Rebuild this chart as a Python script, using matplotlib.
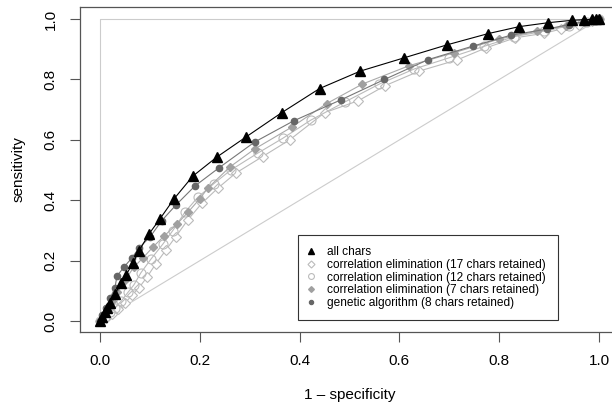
import matplotlib
matplotlib.use("Agg")
import matplotlib.pyplot as plt

plt.rcParams['font.family'] = ['Liberation Sans', 'DejaVu Sans']

# ROC curves
all_x = [0, 0.005, 0.01, 0.015, 0.02, 0.03, 0.042, 0.052, 0.066, 0.078, 0.098, 0.12,
         0.148, 0.186, 0.234, 0.292, 0.364, 0.44, 0.522, 0.61, 0.696, 0.778, 0.84,
         0.898, 0.946, 0.97, 0.985, 0.993, 1.0]
all_y = [0, 0.015, 0.03, 0.045, 0.06, 0.09, 0.126, 0.152, 0.192, 0.232, 0.288, 0.338,
         0.404, 0.48, 0.543, 0.609, 0.69, 0.77, 0.828, 0.872, 0.915, 0.952, 0.975,
         0.988, 0.996, 0.998, 0.999, 1.0, 1.0]

ce17_x = [0, 0.012, 0.024, 0.036, 0.05, 0.064, 0.078, 0.094, 0.112, 0.132, 0.152, 0.176,
          0.204, 0.236, 0.272, 0.326, 0.38, 0.45, 0.518, 0.572, 0.64, 0.716, 0.774,
          0.832, 0.89, 0.924, 0.96, 0.985, 1.0]
ce17_y = [0, 0.012, 0.025, 0.04, 0.06, 0.085, 0.11, 0.145, 0.19, 0.235, 0.28, 0.335,
          0.39, 0.44, 0.49, 0.545, 0.6, 0.69, 0.73, 0.78, 0.828, 0.865, 0.905,
          0.938, 0.953, 0.967, 0.982, 0.993, 1.0]

ce12_x = [0, 0.01, 0.02, 0.03, 0.042, 0.056, 0.068, 0.082, 0.102, 0.126, 0.146, 0.17,
          0.196, 0.228, 0.262, 0.316, 0.366, 0.422, 0.49, 0.56, 0.63, 0.70, 0.77,
          0.83, 0.89, 0.94, 0.975, 1.0]
ce12_y = [0, 0.015, 0.03, 0.045, 0.065, 0.095, 0.12, 0.16, 0.205, 0.255, 0.30, 0.36,
          0.41, 0.455, 0.5, 0.556, 0.605, 0.665, 0.725, 0.785, 0.835, 0.872, 0.91,
          0.942, 0.96, 0.978, 0.99, 1.0]

ce7_x = [0, 0.008, 0.015, 0.025, 0.035, 0.05, 0.068, 0.086, 0.106, 0.128, 0.154, 0.176,
         0.2, 0.216, 0.26, 0.31, 0.384, 0.454, 0.526, 0.62, 0.71, 0.80, 0.876, 0.934,
         0.97, 1.0]
ce7_y = [0, 0.02, 0.04, 0.065, 0.095, 0.135, 0.179, 0.209, 0.245, 0.281, 0.321, 0.36,
         0.405, 0.44, 0.51, 0.57, 0.642, 0.72, 0.785, 0.846, 0.889, 0.934, 0.96, 0.978,
         0.99, 1.0]

ga_x = [0, 0.005, 0.012, 0.02, 0.03, 0.034, 0.048, 0.064, 0.078, 0.1, 0.124, 0.152,
        0.19, 0.238, 0.31, 0.388, 0.482, 0.57, 0.658, 0.748, 0.824, 0.896, 0.94,
        0.97, 0.99, 1.0]
ga_y = [0, 0.02, 0.045, 0.075, 0.11, 0.149, 0.179, 0.209, 0.242, 0.278, 0.333, 0.384,
        0.447, 0.507, 0.593, 0.663, 0.732, 0.80, 0.866, 0.911, 0.947, 0.967, 0.982,
        0.992, 0.997, 1.0]

labels = ["all chars",
          "correlation elimination (17 chars retained)",
          "correlation elimination (12 chars retained)",
          "correlation elimination (7 chars retained)",
          "genetic algorithm (8 chars retained)"]

fig = plt.figure(figsize=(6.12, 4.07), dpi=100)
ax = fig.add_axes([80 / 612, 75 / 407, 539 / 612, 325 / 407])

# reference lines: perfect classifier and chance
ax.plot([0, 0, 1], [0, 1, 1], color='#cccccc', lw=0.8, zorder=1)
ax.plot([0, 1], [0, 1], color='#cccccc', lw=0.8, zorder=1)

ax.plot(ce17_x, ce17_y, color='#bbbbbb', lw=0.8, marker='D', ms=5.5,
        mfc='white', mec='#bbbbbb', mew=0.8, label=labels[1], zorder=2)
ax.plot(ce12_x, ce12_y, color='#bbbbbb', lw=0.8, marker='o', ms=6.5,
        mfc='none', mec='#bbbbbb', mew=0.8, label=labels[2], zorder=2)
ax.plot(ce7_x, ce7_y, color='#aaaaaa', lw=0.8, marker='D', ms=4.5,
        mfc='#a0a0a0', mec='#a0a0a0', label=labels[3], zorder=3)
ax.plot(ga_x, ga_y, color='#777777', lw=0.8, marker='o', ms=4.5,
        mfc='#666666', mec='#666666', label=labels[4], zorder=4)
ax.plot(all_x, all_y, color='black', lw=0.8, marker='^', ms=7,
        mfc='black', mec='black', label=labels[0], zorder=5)

ax.set_xlim(-0.04, 1.04)
ax.set_ylim(-0.036, 1.04)
ticks = [0.0, 0.2, 0.4, 0.6, 0.8, 1.0]
ax.set_xticks(ticks)
ax.set_yticks(ticks)
ax.set_xticklabels([f"{t:.1f}" for t in ticks], fontsize=11)
ax.set_yticklabels([f"{t:.1f}" for t in ticks], fontsize=11, rotation=90, va='center')
ax.tick_params(direction='out', length=7, width=0.8, color='#555555', pad=9)
for sp in ax.spines.values():
    sp.set_color('#555555')
    sp.set_linewidth(0.9)

ax.set_xlabel("1 \u2013 specificity", fontsize=11, labelpad=14)
ax.set_ylabel("sensitivity", fontsize=11, labelpad=13)

handles, labs = ax.get_legend_handles_labels()
order = [4, 0, 1, 2, 3]
leg = ax.legend([handles[i] for i in order], [labs[i] for i in order],
                loc='lower left', bbox_to_anchor=(0.396, 0.003),
                bbox_transform=ax.transData, borderaxespad=0, fontsize=8.6,
                fancybox=False, edgecolor='#333333', framealpha=1,
                handlelength=0.3, handletextpad=1.25, labelspacing=0.05,
                borderpad=0.95, markerscale=0.65)
for h in leg.legend_handles:
    h.set_linestyle('none')
leg.get_frame().set_linewidth(0.8)

fig.savefig("out.png", dpi=100)
